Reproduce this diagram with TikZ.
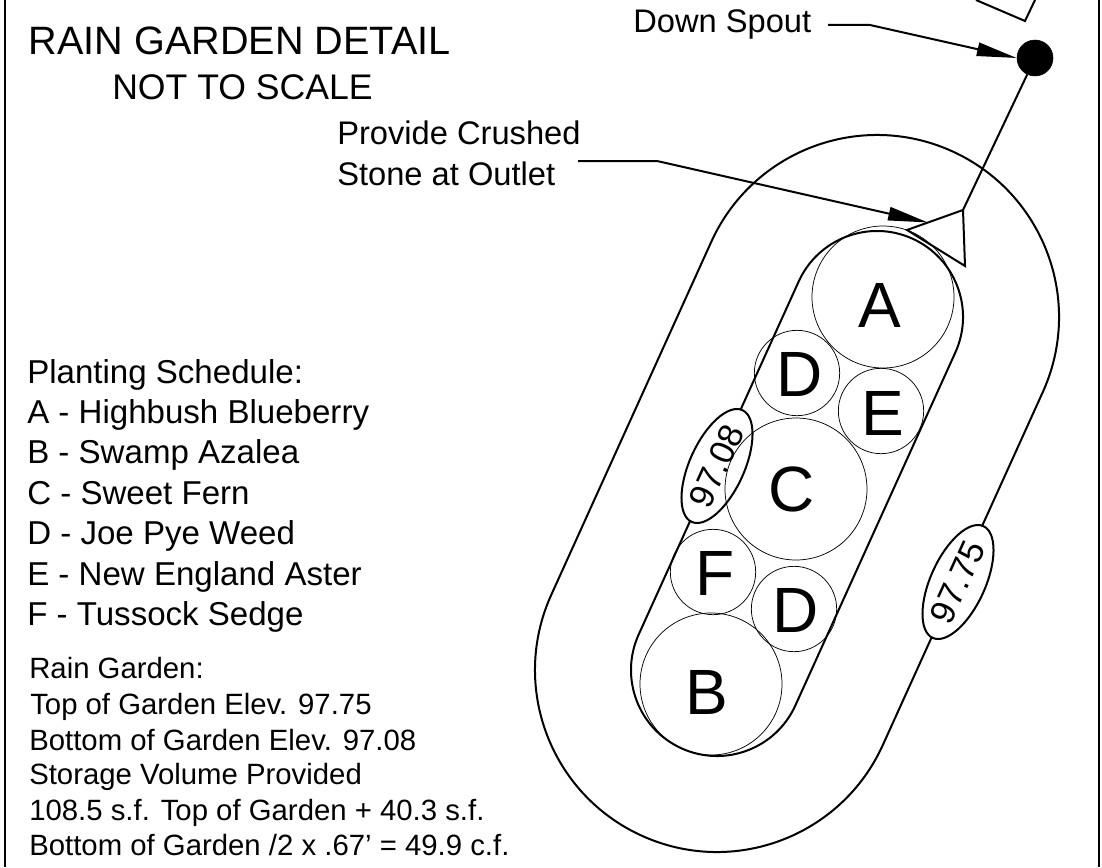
\documentclass[tikz,border=0pt]{standalone}
\usepackage{fontspec}
\setmainfont{Liberation Sans}
\usetikzlibrary{arrows.meta}
\usetikzlibrary{calc}
\usetikzlibrary{shapes.geometric}
\newcommand\fsz[1]{\fontsize{#1}{#1}\selectfont}
\tikzstyle{heavy}=[line width=1.5pt]
\tikzstyle{plant}=[draw,circle,line width=.55pt,inner sep=0pt]
\tikzstyle{bigplant}=[plant,minimum size=106.5pt]
\tikzstyle{smallplant}=[plant,minimum size=64pt]
\tikzstyle{plantname}=[inner sep=0pt,font=\fsz{48}]
\tikzstyle{elev}=[draw,fill=white,ellipse,heavy,inner sep=0pt,minimum width=88pt,minimum height=41pt,rotate=65.6,font=\fsz{26}]
\tikzstyle{txt}=[inner sep=0pt,anchor=base west]
\tikzstyle{schedule}=[txt,font=\fsz{24.8}]
\tikzstyle{notes}=[txt,font=\fsz{22}]
\tikzstyle{leader}=[heavy,-{Triangle[length=30pt,width=10pt]}]
\begin{document}
\begin{tikzpicture}[x=.75pt,y=-.75pt]
	\useasboundingbox (0,0) rectangle (1102,867);
	% side rules of the sheet
	\coordinate (frame-lt) at (4.5,0);
	\coordinate (frame-lb) at (4.5,867);
	\coordinate (frame-rt) at (1099,0);
	\coordinate (frame-rb) at (1099,867);
	\draw[heavy] (frame-lt) -- (frame-lb);
	\draw[heavy] (frame-rt) -- (frame-rb);
	% garden outlines
	\coordinate (upper) at (877,317);
	\coordinate (lower) at (717,670);
	\draw[heavy] ($(upper)+(24.4:182)$) arc[start angle=24.4,end angle=-155.6,radius=182]
		-- ($(lower)+(204.4:182)$) arc[start angle=204.4,end angle=24.4,radius=182] -- cycle;
	\draw[heavy] ($(upper)+(24.4:86)$) arc[start angle=24.4,end angle=-155.6,radius=86]
		-- ($(lower)+(204.4:86)$) arc[start angle=204.4,end angle=24.4,radius=86] -- cycle;
	\node[elev] (top-elev) at (958,582) {97.75};
	\node[elev] (bottom-elev) at (717,466) {97.08};
	% plants
	\node[bigplant] (a) at (883,297) {};
	\node[bigplant] (c) at (796,489) {};
	\node[bigplant] (b) at (711,684) {};
	\node[smallplant] (d-up) at (797,373) {};
	\node[smallplant] (e) at (881,411) {};
	\node[smallplant] (f) at (713,572) {};
	\node[smallplant] (d-low) at (794,609) {};
	\node[plantname] (a-name) at (880,305) {A};
	\node[plantname] (c-name) at (792,489) {C};
	\node[plantname] (b-name) at (707,692) {B};
	\node[plantname] (d-up-name) at (800,374) {D};
	\node[plantname] (e-name) at (883,413) {E};
	\node[plantname] (f-name) at (715,573) {F};
	\node[plantname] (d-low-name) at (796,610) {D};
	% house corner, down spout and outlet
	\coordinate (house-a) at (976,0);
	\coordinate (house-b) at (1025,21);
	\coordinate (house-c) at (1035,0);
	\draw[heavy] (house-a) -- (house-b) -- (house-c);
	\node[draw,fill,circle,inner sep=0pt,minimum size=27pt] (spout) at (1035,58) {};
	\coordinate (outlet-a) at (963,210);
	\coordinate (outlet-b) at (907,230);
	\coordinate (outlet-c) at (965,266);
	\coordinate (outlet-hit) at (928,222.5);
	\draw[heavy] (outlet-a) -- (outlet-b) -- (outlet-c) -- cycle;
	\draw[heavy] (outlet-a) -- (spout);
	% titles
	\node[txt,font=\fsz{29.7}] (title) at (28.7,55) {RAIN GARDEN DETAIL};
	\node[txt,font=\fsz{26.7}] (subtitle) at (112,99) {NOT TO SCALE};
	% callouts
	\node[txt,font=\fsz{24.5}] (spout-name) at (633,33) {Down Spout};
	\node[txt,font=\fsz{24.5}] (stone-a) at (337,144) {Provide Crushed};
	\node[txt,font=\fsz{24.5}] (stone-b) at (337,185) {Stone at Outlet};
	\coordinate (spout-from) at (828,25);
	\coordinate (spout-bend) at (870,25);
	\coordinate (stone-from) at (578,161);
	\coordinate (stone-bend) at (657,161);
	\draw[leader] (spout-from) -- (spout-bend) -- (spout.west);
	\draw[leader] (stone-from) -- (stone-bend) -- (outlet-hit);
	% planting schedule
	\node[schedule] (sched-0) at (27,383) {Planting Schedule:};
	\node[schedule] (sched-a) at (27,423) {A - Highbush Blueberry};
	\node[schedule] (sched-b) at (27,463) {B - Swamp Azalea};
	\node[schedule] (sched-c) at (27,504) {C - Sweet Fern};
	\node[schedule] (sched-d) at (27,544) {D - Joe Pye Weed};
	\node[schedule] (sched-e) at (27,585) {E - New England Aster};
	\node[schedule] (sched-f) at (27,625) {F - Tussock Sedge};
	% volume notes
	\node[notes] (note-0) at (29,678) {Rain Garden:};
	\node[notes] (note-1) at (30,714) {Top of Garden Elev. 97.75};
	\node[notes] (note-2) at (29,750) {Bottom of Garden Elev. 97.08};
	\node[notes] (note-3) at (29,784) {Storage Volume Provided};
	\node[notes] (note-4) at (29,820) {108.5 s.f. Top of Garden + 40.3 s.f.};
	\node[notes] (note-5) at (29,855) {Bottom of Garden /2 x .67' = 49.9 c.f.};
\end{tikzpicture}
\end{document}
